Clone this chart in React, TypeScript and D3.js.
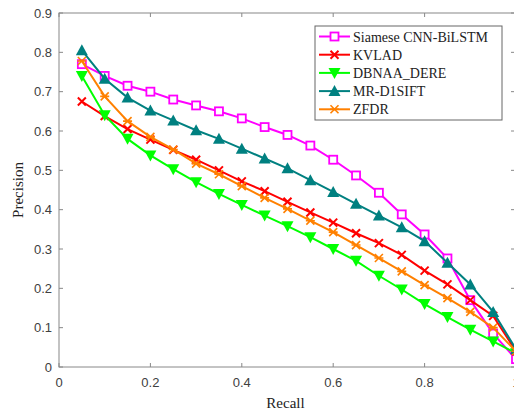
import React from 'react';
import * as d3 from 'd3';

const recall = [0.05, 0.1, 0.15, 0.2, 0.25, 0.3, 0.35, 0.4, 0.45, 0.5, 0.55, 0.6, 0.65, 0.7, 0.75, 0.8, 0.85, 0.9, 0.95, 1.0];

const siamese = [0.77, 0.74, 0.715, 0.70, 0.68, 0.665, 0.65, 0.632, 0.61, 0.59, 0.563, 0.527, 0.487, 0.443, 0.388, 0.337, 0.276, 0.17, 0.085, 0.02];
const kvlad = [0.675, 0.638, 0.605, 0.578, 0.552, 0.527, 0.50, 0.472, 0.447, 0.42, 0.393, 0.367, 0.34, 0.315, 0.285, 0.245, 0.21, 0.17, 0.13, 0.04];
const dbnaa = [0.74, 0.64, 0.58, 0.538, 0.503, 0.47, 0.44, 0.412, 0.385, 0.358, 0.33, 0.30, 0.27, 0.232, 0.197, 0.16, 0.127, 0.095, 0.065, 0.035];
const mrd1sift = [0.805, 0.733, 0.685, 0.652, 0.627, 0.602, 0.58, 0.555, 0.53, 0.505, 0.475, 0.445, 0.415, 0.385, 0.355, 0.32, 0.265, 0.21, 0.14, 0.045];
const zfdr = [0.778, 0.688, 0.625, 0.585, 0.553, 0.517, 0.49, 0.46, 0.43, 0.402, 0.372, 0.343, 0.31, 0.277, 0.243, 0.208, 0.175, 0.14, 0.10, 0.04];

const xTicks = [0, 0.2, 0.4, 0.6, 0.8, 1];
const yTicks = [0, 0.1, 0.2, 0.3, 0.4, 0.5, 0.6, 0.7, 0.8, 0.9];

const series = [
  { name: 'Siamese CNN-BiLSTM', values: siamese, color: '#ff00ff', marker: 'square' },
  { name: 'KVLAD', values: kvlad, color: '#ff0000', marker: 'x' },
  { name: 'DBNAA_DERE', values: dbnaa, color: '#00ff00', marker: 'down' },
  { name: 'MR-D1SIFT', values: mrd1sift, color: '#008080', marker: 'up' },
  { name: 'ZFDR', values: zfdr, color: '#ff8000', marker: 'star' },
];

const Marker = ({ type, color, x, y }: { type: string; color: string; x: number; y: number }) => {
  if (type === 'square') {
    return <rect x={x - 4} y={y - 4} width={8} height={8} fill="white" stroke={color} strokeWidth={1.8} />;
  }
  if (type === 'x') {
    return (
      <path d={`M${x - 4},${y - 4}L${x + 4},${y + 4}M${x - 4},${y + 4}L${x + 4},${y - 4}`} stroke={color} strokeWidth={2} />
    );
  }
  if (type === 'star') {
    return (
      <path
        d={`M${x - 4},${y - 4}L${x + 4},${y + 4}M${x - 4},${y + 4}L${x + 4},${y - 4}M${x - 4.5},${y}L${x + 4.5},${y}`}
        stroke={color}
        strokeWidth={1.6}
      />
    );
  }
  if (type === 'down') {
    return <path d={`M${x - 6},${y - 5}L${x + 6},${y - 5}L${x},${y + 6}Z`} fill={color} />;
  }
  return <path d={`M${x - 6},${y + 5}L${x + 6},${y + 5}L${x},${y - 6}Z`} fill={color} />;
};

const App = () => {
  const width = 514;
  const height = 414;
  const margin = { top: 13, right: -2, bottom: 47, left: 59 };

  const x = d3.scaleLinear().domain([0, 1]).range([margin.left, width - margin.right]);
  const y = d3.scaleLinear().domain([0, 0.9]).range([height - margin.bottom, margin.top]);

  const line = d3
    .line<number>()
    .x((_, i) => x(recall[i]))
    .y((d) => y(d));

  const axisColor = '#888888';
  const tickColor = '#404040';
  const sans = "'Liberation Sans', Arial, sans-serif";
  const serif = "'Liberation Serif', 'Times New Roman', serif";

  const x0 = x(0);
  const x1 = x(1);
  const y0 = y(0);
  const y1 = y(0.9);

  return (
    <svg width={width} height={height} style={{ position: 'absolute', left: 0, top: 0, background: 'white' }}>
      <defs>
        <clipPath id="plot">
          <rect x={x0} y={y1 - 10} width={x1 - x0 + 10} height={y0 - y1 + 10} />
        </clipPath>
      </defs>

      {/* box and ticks */}
      <g stroke={axisColor} strokeWidth={1} fill="none">
        <rect x={x0} y={y1} width={x1 - x0} height={y0 - y1} />
        {xTicks.map((t) => (
          <g key={'xt' + t}>
            <line x1={x(t)} x2={x(t)} y1={y0} y2={y0 - 4} />
            <line x1={x(t)} x2={x(t)} y1={y1} y2={y1 + 4} />
          </g>
        ))}
        {yTicks.map((t) => (
          <g key={'yt' + t}>
            <line x1={x0} x2={x0 + 4} y1={y(t)} y2={y(t)} />
            <line x1={x1} x2={x1 - 5} y1={y(t)} y2={y(t)} />
          </g>
        ))}
      </g>

      {xTicks.map((t) => (
        <text key={'xl' + t} x={x(t)} y={y0 + 20} textAnchor="middle" fontFamily={sans} fontSize={13} fill={tickColor}>
          {d3.format('~g')(t)}
        </text>
      ))}
      {yTicks.map((t) => (
        <text key={'yl' + t} x={x0 - 7} y={y(t) + 4.5} textAnchor="end" fontFamily={sans} fontSize={13} fill={tickColor}>
          {d3.format('~g')(t)}
        </text>
      ))}

      <text x={(x0 + x1) / 2 - 2} y={408} textAnchor="middle" fontFamily={serif} fontSize={15} fill="#222">
        Recall
      </text>
      <text
        transform={`translate(23,${(y0 + y1) / 2})rotate(-90)`}
        textAnchor="middle"
        fontFamily={serif}
        fontSize={15}
        fill="#222"
      >
        Precision
      </text>

      <g clipPath="url(#plot)">
        {series.map((s) => (
          <g key={s.name}>
            <path d={line(s.values) || ''} fill="none" stroke={s.color} strokeWidth={2} />
            {s.values.map((v, i) => (
              <Marker key={i} type={s.marker} color={s.color} x={x(recall[i])} y={y(v)} />
            ))}
          </g>
        ))}
      </g>

      {/* legend */}
      <g transform="translate(315,26)">
        <rect x={0} y={0} width={187} height={94} fill="white" stroke="#666" strokeWidth={1} />
        {series.map((s, i) => {
          const ly = 10.5 + i * 18.2;
          return (
            <g key={'lg' + s.name}>
              <line x1={4} x2={35} y1={ly} y2={ly} stroke={s.color} strokeWidth={2} />
              <Marker type={s.marker} color={s.color} x={19.5} y={ly} />
              <text x={38} y={ly + 5} fontFamily={serif} fontSize={14} fill="#222">
                {s.name}
              </text>
            </g>
          );
        })}
      </g>
    </svg>
  );
};

export default App;
